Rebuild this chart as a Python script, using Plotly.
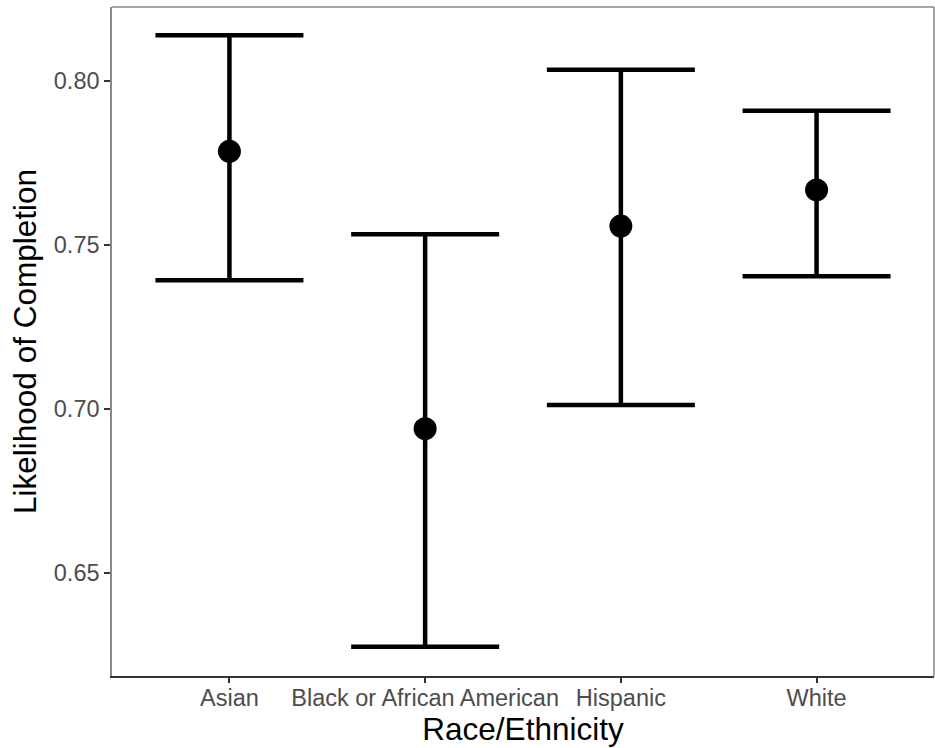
import plotly.graph_objects as go

categories = ["Asian", "Black or African American", "Hispanic", "White"]
estimate = [0.7786, 0.6940, 0.7558, 0.7668]
upper = [0.8140, 0.7533, 0.8035, 0.7910]
lower = [0.7393, 0.6275, 0.7012, 0.7405]
y_ticks = [0.65, 0.70, 0.75, 0.80]

xpos = list(range(1, len(categories) + 1))
err_plus = [u - e for u, e in zip(upper, estimate)]
err_minus = [e - l for e, l in zip(estimate, lower)]

fig = go.Figure()
fig.add_trace(go.Scatter(
    x=xpos, y=estimate, mode="markers",
    marker=dict(color="black", size=23),
    error_y=dict(type="data", symmetric=False, array=err_plus, arrayminus=err_minus,
                 color="black", thickness=4.5, width=74),
    showlegend=False,
))

font = "Liberation Sans, Arial, sans-serif"
fig.update_layout(
    width=935, height=748,
    margin=dict(l=112, r=1, t=7, b=72),
    plot_bgcolor="white", paper_bgcolor="white",
    font=dict(family=font),
    xaxis=dict(
        range=[0.4, 4.6], tickmode="array", tickvals=xpos, ticktext=categories,
        showgrid=False, zeroline=False, showline=True, linecolor="#333333", linewidth=2,
        ticks="outside", ticklen=5, tickwidth=2, tickcolor="#333333",
        ticklabelstandoff=-5,
        tickfont=dict(size=23.5, color="#4D4D4D"),
        title=dict(text="Race/Ethnicity", font=dict(size=31.5, color="black"), standoff=5),
        mirror=False,
    ),
    yaxis=dict(
        range=[0.6186, 0.8226], tickmode="array", tickvals=y_ticks,
        ticktext=[f"{v:.2f}" for v in y_ticks],
        showgrid=False, zeroline=False, showline=True, linecolor="#888888", linewidth=1.5,
        ticks="outside", ticklen=6, tickwidth=2, tickcolor="#333333",
        tickfont=dict(size=23.5, color="#4D4D4D"),
        title=dict(text="Likelihood of Completion", font=dict(size=31.5, color="black"), standoff=8),
    ),
    shapes=[
        dict(type="line", xref="paper", yref="paper", x0=0, x1=1, y0=1, y1=1,
             line=dict(color="#888888", width=1.5)),
        dict(type="line", xref="paper", yref="paper", x0=1, x1=1, y0=0, y1=1,
             line=dict(color="#888888", width=1.5)),
    ],
)

fig.write_html("out.html")
